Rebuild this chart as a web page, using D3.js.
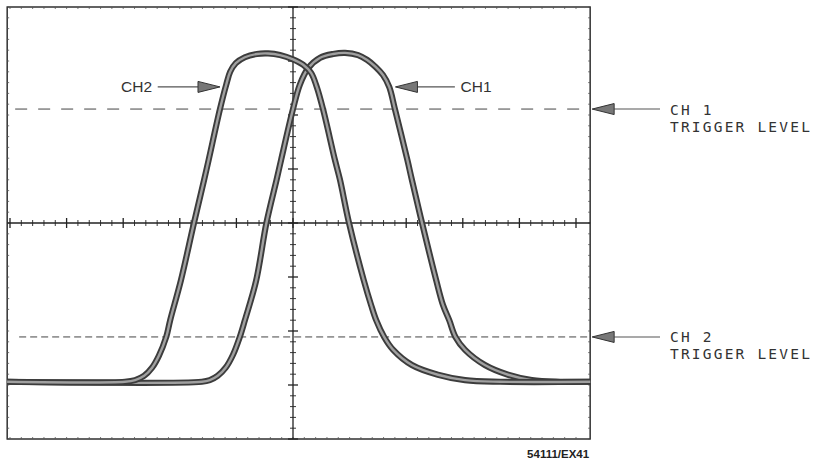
<!DOCTYPE html>
<html>
<head>
<meta charset="utf-8">
<script src="https://cdn.jsdelivr.net/npm/d3@7"></script>
<style>
  body { margin: 0; background: #fff; }
</style>
</head>
<body>
<div id="graph"></div>
<script>
const ch1Time = [-5.05, -1.61, -1.47, -1.33, -1.19, -1.06, -0.94, -0.85, -0.65, -0.47, -0.29, -0.21, 0, 0.12, 0.27, 0.48, 0.71, 0.92, 1.15, 1.31, 1.46, 1.59, 1.70, 1.80, 2.02, 2.10, 2.28, 2.53, 2.65, 2.76, 2.87, 3.04, 3.39, 3.80, 4.22, 4.72, 5.25]
const ch1Volt = [-2.94, -2.94, -2.91, -2.83, -2.68, -2.44, -2.11, -1.80, -1.06, 0, 0.80, 1.17, 2.11, 2.56, 2.87, 3.06, 3.13, 3.15, 3.11, 3.02, 2.89, 2.74, 2.52, 2.11, 1.17, 0.80, 0, -1.06, -1.52, -1.80, -2.11, -2.35, -2.63, -2.81, -2.91, -2.94, -2.94]

const ch2Time = [-5.05, -2.97, -2.79, -2.63, -2.49, -2.37, -2.24, -2.17, -1.98, -1.75, -1.57, -1.49, -1.29, -1.18, -1.11, -1.01, -0.85, -0.64, -0.44, -0.23, 0, 0.18, 0.32, 0.42, 0.53, 0.74, 0.83, 0.99, 1.25, 1.38, 1.47, 1.61, 1.77, 2.10, 2.56, 3.04, 3.66, 5.25]
const ch2Volt = [-2.94, -2.94, -2.91, -2.83, -2.68, -2.46, -2.11, -1.80, -1.06, 0, 0.80, 1.17, 2.11, 2.56, 2.80, 2.96, 3.07, 3.13, 3.14, 3.11, 3.03, 2.93, 2.78, 2.52, 2.11, 1.17, 0.80, 0, -1.06, -1.52, -1.80, -2.11, -2.35, -2.63, -2.81, -2.91, -2.94, -2.94]

const triggerNames = ["CH 1", "CH 2"]
const triggerLevels = [2.11, -2.11]
const traceNames = ["CH2", "CH1"]
const figureId = "54111/EX41"

const width = 820
const height = 464

const svg = d3.select("#graph").append("svg")
    .attr("width", width)
    .attr("height", height)
    .style("font-family", "'Liberation Sans', Arial, sans-serif")

const x = d3.scaleLinear().domain([-5, 5]).range([10, 576])
const y = d3.scaleLinear().domain([-4, 4]).range([439, 7])

// screen edges (the scan runs a little past the last division on the right)
const edgeL = x(-5.05), edgeR = x(5.25), edgeT = y(4), edgeB = y(-4)
const ink = "#222"

// Frame
svg.append("rect")
    .attr("x", edgeL).attr("y", edgeT)
    .attr("width", edgeR - edgeL).attr("height", edgeB - edgeT)
    .attr("fill", "none").attr("stroke", ink).attr("stroke-width", 1.4)

const minorX = d3.range(-25, 26).map(d => d / 5)
const minorY = d3.range(-20, 21).map(d => d / 5)

// small ticks along the frame
const frame = svg.append("g").attr("stroke", "#555").attr("stroke-width", 0.8)
frame.selectAll(".bt").data(minorX).join("line")
    .attr("x1", d => x(d)).attr("x2", d => x(d))
    .attr("y1", edgeB).attr("y2", edgeB - 2)
frame.selectAll(".tt").data(minorX).join("line")
    .attr("x1", d => x(d)).attr("x2", d => x(d))
    .attr("y1", edgeT).attr("y2", edgeT + 2)
frame.selectAll(".lt").data(minorY).join("line")
    .attr("x1", edgeL).attr("x2", edgeL + 2)
    .attr("y1", d => y(d)).attr("y2", d => y(d))
frame.selectAll(".rt").data(minorY).join("line")
    .attr("x1", edgeR).attr("x2", edgeR - 2)
    .attr("y1", d => y(d)).attr("y2", d => y(d))

// Centre graticule
const axes = svg.append("g").attr("stroke", ink)
axes.append("line")
    .attr("x1", edgeL).attr("x2", edgeR)
    .attr("y1", y(0)).attr("y2", y(0))
    .attr("stroke-width", 1.3)
axes.append("line")
    .attr("x1", x(0)).attr("x2", x(0))
    .attr("y1", edgeT).attr("y2", edgeB)
    .attr("stroke-width", 1.3)

const isMajor = d => Math.abs(d - Math.round(d)) < 1e-6
axes.selectAll(".hx").data(minorX).join("line")
    .attr("x1", d => x(d)).attr("x2", d => x(d))
    .attr("y1", d => y(0) - (isMajor(d) ? 5 : 3))
    .attr("y2", d => y(0) + (isMajor(d) ? 5 : 3))
    .attr("stroke-width", d => isMajor(d) ? 1.3 : 0.9)
axes.selectAll(".vy").data(minorY).join("line")
    .attr("y1", d => y(d)).attr("y2", d => y(d))
    .attr("x1", d => x(0) - (isMajor(d) ? 5 : 3))
    .attr("x2", d => x(0) + (isMajor(d) ? 5 : 3))
    .attr("stroke-width", d => isMajor(d) ? 1.3 : 0.9)

// Trigger levels
svg.append("line")
    .attr("x1", edgeL + 8).attr("x2", edgeR - 10)
    .attr("y1", y(triggerLevels[0])).attr("y2", y(triggerLevels[0]))
    .attr("stroke", "#444").attr("stroke-width", 1)
    .attr("stroke-dasharray", "12 11")
svg.append("line")
    .attr("x1", edgeL + 12).attr("x2", edgeR)
    .attr("y1", y(triggerLevels[1])).attr("y2", y(triggerLevels[1]))
    .attr("stroke", "#444").attr("stroke-width", 1)
    .attr("stroke-dasharray", "7 4")

// Traces
const line = d3.line()
    .x(d => x(d[0]))
    .y(d => y(d[1]))
    .curve(d3.curveCatmullRom.alpha(0.5))

const traces = [d3.zip(ch1Time, ch1Volt), d3.zip(ch2Time, ch2Volt)]
traces.forEach(pts => {
    svg.append("path").datum(pts).attr("d", line)
        .attr("fill", "none").attr("stroke", "#3c3c3c")
        .attr("stroke-width", 6.2).attr("stroke-linejoin", "round")
    svg.append("path").datum(pts).attr("d", line)
        .attr("fill", "none").attr("stroke", "#a0a0a0")
        .attr("stroke-width", 2.4).attr("stroke-linejoin", "round")
})

// arrow: tip at (tx, ty), shaft runs toward (sx, ty)
function arrow(tx, ty, sx) {
    const dir = Math.sign(sx - tx)
    const headLen = 22
    const g = svg.append("g")
    g.append("line")
        .attr("x1", tx + dir * headLen).attr("x2", sx)
        .attr("y1", ty).attr("y2", ty)
        .attr("stroke", "#555").attr("stroke-width", 1.1)
    g.append("path")
        .attr("d", `M${tx},${ty} L${tx + dir * headLen},${ty - 5.5} L${tx + dir * headLen},${ty + 5.5} Z`)
        .attr("fill", "#777").attr("stroke", "#333").attr("stroke-width", 1)
}

// trace labels
const labelY = y(2.52)
arrow(x(-1.29), labelY, x(-2.39))
svg.append("text")
    .attr("x", x(-2.49)).attr("y", labelY + 5.5)
    .attr("text-anchor", "end")
    .attr("font-size", 15.5).attr("fill", "#333")
    .text(traceNames[0])

arrow(x(1.81), labelY, x(2.86))
svg.append("text")
    .attr("x", x(2.96)).attr("y", labelY + 5.5)
    .attr("font-size", 15.5).attr("fill", "#333")
    .text(traceNames[1])

// trigger level callouts
triggerLevels.forEach((lvl, i) => {
    const ty = y(lvl)
    arrow(edgeR + 2, ty, 660)
    const t = svg.append("text")
        .attr("x", 670).attr("y", ty + 5.5)
        .attr("font-family", "'DejaVu Sans Mono', monospace")
        .attr("font-size", 14.5).attr("letter-spacing", 2.2)
        .attr("fill", "#333")
    t.append("tspan").attr("x", 670).text(triggerNames[i])
    t.append("tspan").attr("x", 670).attr("dy", 17).text("TRIGGER LEVEL")
})

// figure id
svg.append("text")
    .attr("x", edgeR - 1).attr("y", 458)
    .attr("text-anchor", "end")
    .attr("font-size", 11.5).attr("font-weight", "bold")
    .attr("fill", "#222")
    .text(figureId)
</script>
</body>
</html>
